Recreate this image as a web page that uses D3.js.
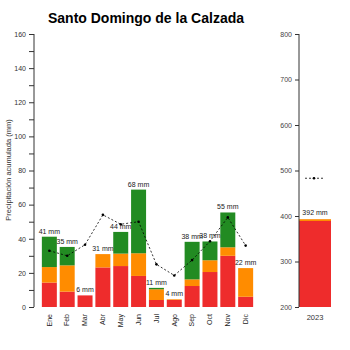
<!DOCTYPE html>
<html>
<head>
<meta charset="utf-8">
<script src="https://cdn.jsdelivr.net/npm/d3@7"></script>
<style>
  body { margin: 0; background: #fff; }
  svg { font-family: "Liberation Sans", Arial, sans-serif; }
</style>
</head>
<body>
<div id="chart"></div>
<script>
// monthly precipitation, stacked by layer
var months = ["Ene", "Feb", "Mar", "Abr", "May", "Jun", "Jul", "Ago", "Sep", "Oct", "Nov", "Dic"];
var redVals    = [14.3, 9.0, 6.8, 23.2, 24.0, 18.2, 4.1, 4.1, 12.3, 20.5, 30.0, 6.0];
var orangeVals = [9.1, 15.4, 0, 7.8, 7.3, 13.3, 6.3, 0.4, 3.9, 6.9, 5.0, 16.8];
var greenVals  = [17.8, 10.8, 0, 0, 12.7, 37.3, 0.8, 0, 22.0, 11.0, 20.4, 0];
var totalLabels = [41, 35, 6, 31, 44, 68, 11, 4, 38, 38, 55, 22];
var meanVals   = [33, 30, 36.5, 54, 48.5, 50, 25, 18.5, 27.5, 38.5, 52.5, 36];
var yTicksLeft = [0, 20, 40, 60, 80, 100, 120, 140, 160];

// annual total
var years = ["2023"];
var yearRed = [389];
var yearOrange = [4];
var yearLabels = [392];
var yearMean = [483];
var yTicksRight = [200, 300, 400, 500, 600, 700, 800];

var colors = ["#ee2c2c", "#ff8c00", "#228b22"];

var svg = d3.select("#chart").append("svg")
  .attr("width", 350).attr("height", 350);

svg.append("text")
  .attr("x", 146).attr("y", 23)
  .attr("text-anchor", "middle")
  .style("font-size", "14px").style("font-weight", "bold")
  .text("Santo Domingo de la Calzada");

/* left panel */
var x = d3.scaleBand().domain(months).range([39, 256]).padding(0.16);
var y = d3.scaleLinear().domain([0, 160]).range([307, 34]);

var rows = months.map(function(m, i) {
  return { m: m, red: redVals[i], orange: orangeVals[i], green: greenVals[i] };
});
var stack = d3.stack().keys(["red", "orange", "green"])(rows);

svg.append("g").selectAll("g").data(stack).join("g")
  .attr("fill", function(d, i) { return colors[i]; })
  .selectAll("rect").data(function(d) { return d; }).join("rect")
  .attr("x", function(d) { return x(d.data.m); })
  .attr("width", x.bandwidth())
  .attr("y", function(d) { return y(d[1]); })
  .attr("height", function(d) { return y(d[0]) - y(d[1]); });

svg.append("g").selectAll("text").data(rows).join("text")
  .attr("x", function(d) { return x(d.m) + x.bandwidth() / 2; })
  .attr("y", function(d) { return y(d.red + d.orange + d.green) - 3; })
  .attr("text-anchor", "middle")
  .style("font-size", "7px").attr("fill", "#222")
  .text(function(d, i) { return totalLabels[i] + " mm"; });

var line = d3.line()
  .x(function(d, i) { return x(months[i]) + x.bandwidth() / 2; })
  .y(function(d) { return y(d); });
svg.append("path").datum(meanVals)
  .attr("d", line).attr("fill", "none")
  .attr("stroke", "#000").attr("stroke-width", 0.8)
  .attr("stroke-dasharray", "2,2");
svg.append("g").selectAll("circle").data(meanVals).join("circle")
  .attr("cx", function(d, i) { return x(months[i]) + x.bandwidth() / 2; })
  .attr("cy", function(d) { return y(d); })
  .attr("r", 1.3).attr("fill", "#000");

var yAxis = d3.axisLeft(y)
  .tickValues(d3.range(0, 161, 10))
  .tickSize(5)
  .tickFormat(function(d) { return yTicksLeft.indexOf(d) >= 0 ? d : ""; });
var gy = svg.append("g").attr("transform", "translate(34,0)").call(yAxis);
gy.select(".domain").attr("d", "M0," + y(160) + "V" + y(0)).attr("stroke", "#333");
gy.selectAll(".tick line").attr("stroke", "#333");
gy.selectAll(".tick text").style("font-size", "7px").attr("fill", "#333").attr("x", -8);

var xAxis = d3.axisBottom(x).tickSize(0);
var gx = svg.append("g").attr("transform", "translate(0,307)").call(xAxis);
gx.select(".domain").remove();
gx.selectAll(".tick text")
  .style("font-size", "7px").attr("fill", "#222")
  .attr("transform", "rotate(-90)")
  .attr("x", -7).attr("y", 0).attr("dy", "0.32em")
  .style("text-anchor", "end");

svg.append("text")
  .attr("transform", "translate(11,170) rotate(-90)")
  .attr("text-anchor", "middle")
  .style("font-size", "7.5px").attr("fill", "#333")
  .text("Precipitación acumulada (mm)");

/* right panel */
var x2 = d3.scaleBand().domain(years).range([299, 331]).padding(0);
var y2 = d3.scaleLinear().domain([200, 800]).range([307, 34]);

svg.append("g").selectAll("rect.r").data(years).join("rect")
  .attr("x", function(d) { return x2(d); })
  .attr("width", x2.bandwidth())
  .attr("y", function(d, i) { return y2(yearRed[i]); })
  .attr("height", function(d, i) { return y2(200) - y2(yearRed[i]); })
  .attr("fill", colors[0]);
svg.append("g").selectAll("rect.o").data(years).join("rect")
  .attr("x", function(d) { return x2(d); })
  .attr("width", x2.bandwidth())
  .attr("y", function(d, i) { return y2(yearRed[i] + yearOrange[i]); })
  .attr("height", function(d, i) { return y2(yearRed[i]) - y2(yearRed[i] + yearOrange[i]); })
  .attr("fill", colors[1]);

svg.append("g").selectAll("text").data(years).join("text")
  .attr("x", function(d) { return x2(d) + x2.bandwidth() / 2; })
  .attr("y", function(d, i) { return y2(yearRed[i] + yearOrange[i]) - 4; })
  .attr("text-anchor", "middle")
  .style("font-size", "7px").attr("fill", "#222")
  .text(function(d, i) { return yearLabels[i] + " mm"; });

svg.append("g").selectAll("line").data(years).join("line")
  .attr("x1", function(d) { return x2(d) + 6; })
  .attr("x2", function(d) { return x2(d) + x2.bandwidth() - 8; })
  .attr("y1", function(d, i) { return y2(yearMean[i]); })
  .attr("y2", function(d, i) { return y2(yearMean[i]); })
  .attr("stroke", "#000").attr("stroke-width", 0.8)
  .attr("stroke-dasharray", "2,2");
svg.append("g").selectAll("circle").data(years).join("circle")
  .attr("cx", function(d) { return x2(d) + x2.bandwidth() / 2 - 1; })
  .attr("cy", function(d, i) { return y2(yearMean[i]); })
  .attr("r", 1.3).attr("fill", "#000");

var yAxis2 = d3.axisLeft(y2).tickValues(yTicksRight).tickSize(4);
var gy2 = svg.append("g").attr("transform", "translate(299,0)").call(yAxis2);
gy2.select(".domain").attr("d", "M0," + y2(800) + "V" + y2(200)).attr("stroke", "#333");
gy2.selectAll(".tick line").attr("stroke", "#333");
gy2.selectAll(".tick text").style("font-size", "7px").attr("fill", "#444").attr("x", -7);

var gx2 = svg.append("g").attr("transform", "translate(0,307)")
  .call(d3.axisBottom(x2).tickSize(0));
gx2.select(".domain").remove();
gx2.selectAll(".tick text").style("font-size", "7.5px").attr("fill", "#333").attr("dy", "1.35em");
</script>
</body>
</html>
